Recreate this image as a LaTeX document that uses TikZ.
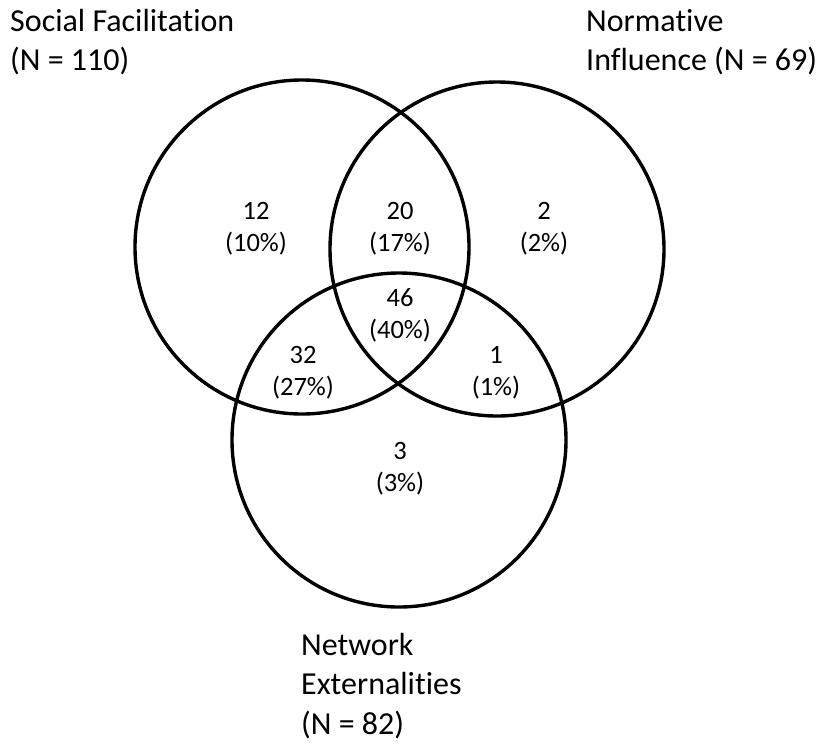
\documentclass[tikz,border=0pt]{standalone}
\usepackage{fontspec}
\setmainfont{Carlito}[Ligatures=NoCommon]
\tikzset{
	vennset/.style = {
		shape=circle,
		draw,
		line width=3.4pt,
		minimum size=334pt,
		inner sep=0pt
	},
	count/.style = {
		align=center,
		inner sep=0pt,
		font=\fontsize{26.5}{32}\selectfont
	},
	setname/.style = {
		align=left,
		inner sep=0pt,
		anchor=north west,
		font=\fontsize{32}{39.5}\selectfont
	}
}

\begin{document}
\begin{tikzpicture}[x=1pt, y=-1pt]
		\useasboundingbox (0,0) rectangle (822,745);
		% the three sets
		\node[vennset] (social) at (302,247) {};
		\node[vennset] (normative) at (497,249) {};
		\node[vennset] (network) at (399,440) {};
		% set names
		\node[setname] (socialname) at (10,9) {Social Facilitation\\(N = 110)};
		\node[setname] (normativename) at (586,9) {Normative\\Influence (N = 69)};
		\node[setname] (networkname) at (301,633) {Network\\Externalities\\(N = 82)};
		% counts per region
		\node[count] (onlysocial) at (256,229) {12\\(10\%)};
		\node[count] (socialnormative) at (400,229) {20\\(17\%)};
		\node[count] (onlynormative) at (544,229) {2\\(2\%)};
		\node[count] (allthree) at (400,315) {46\\(40\%)};
		\node[count] (socialnetwork) at (303,373) {32\\(27\%)};
		\node[count] (normativenetwork) at (496,373) {1\\(1\%)};
		\node[count] (onlynetwork) at (400,469) {3\\(3\%)};
		\end{tikzpicture}
\end{document}
